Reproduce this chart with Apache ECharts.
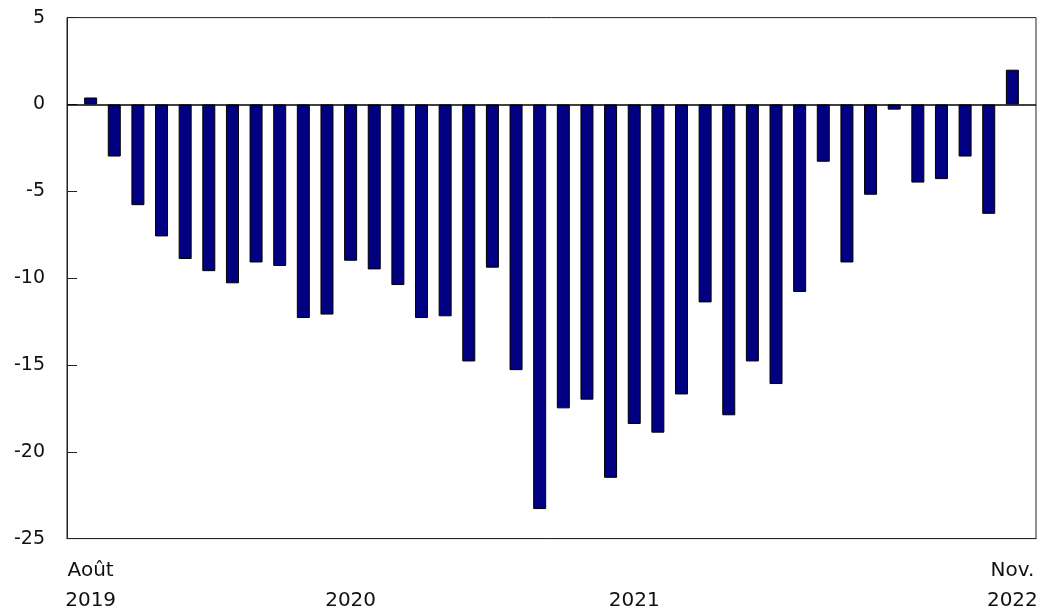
<!DOCTYPE html>
<html>
<head>
<meta charset="utf-8">
<script src="https://cdn.jsdelivr.net/npm/echarts@6/dist/echarts.min.js"></script>
<style>
html,body{margin:0;padding:0;background:#fff;overflow:hidden;}
#chart{width:1041px;height:610px;}
</style>
</head>
<body>
<div id="chart"></div>
<script>
// Months Aug 2019 .. Nov 2022 (padded with an empty slot at each end)
const categories = ['',
  '2019-08','2019-09','2019-10','2019-11','2019-12',
  '2020-01','2020-02','2020-03','2020-04','2020-05','2020-06','2020-07','2020-08','2020-09','2020-10','2020-11','2020-12',
  '2021-01','2021-02','2021-03','2021-04','2021-05','2021-06','2021-07','2021-08','2021-09','2021-10','2021-11','2021-12',
  '2022-01','2022-02','2022-03','2022-04','2022-05','2022-06','2022-07','2022-08','2022-09','2022-10','2022-11',
  ''];
const values = [null,
  0.4, -3.0, -5.8, -7.6, -8.9,
  -9.6, -10.3, -9.1, -9.3, -12.3, -12.1, -9.0, -9.5, -10.4, -12.3, -12.2, -14.8,
  -9.4, -15.3, -23.3, -17.5, -17.0, -21.5, -18.4, -18.9, -16.7, -11.4, -17.9, -14.8,
  -16.1, -10.8, -3.3, -9.1, -5.2, -0.3, -4.5, -4.3, -3.0, -6.3, 2.0,
  null];
const xTickLabels = {
  '2019-08': 'Août\n2019',
  '2020-07': '\n2020',
  '2021-07': '\n2021',
  '2022-11': 'Nov.\n2022'
};
const yTicks = { min: -25, max: 5, step: 5 };

const chart = echarts.init(document.getElementById('chart'));
const font = 'DejaVu Sans, Verdana, sans-serif';
chart.setOption({
  animation: false,
  grid: { left: 67, right: 5, top: 17.6, bottom: 71.4, outerBoundsMode: 'none', containLabel: false, show: true, borderColor: '#222', borderWidth: 1, backgroundColor: 'transparent' },
  xAxis: {
    type: 'category',
    data: categories,
    boundaryGap: false,
    axisLine: { onZero: false, lineStyle: { color: '#222', width: 1 } },
    axisTick: { show: false },
    splitLine: { show: false },
    axisLabel: {
      interval: 0,
      margin: 17,
      color: '#111',
      fontFamily: font,
      fontSize: 20,
      lineHeight: 30,
      formatter: v => xTickLabels[v] || ''
    }
  },
  yAxis: {
    type: 'value',
    min: yTicks.min, max: yTicks.max, interval: yTicks.step,
    axisLine: { show: true, lineStyle: { color: '#222', width: 1 } },
    axisTick: { show: true, inside: true, length: 10, lineStyle: { color: '#222', width: 1 } },
    splitLine: { show: false },
    axisLabel: { margin: 22, color: '#111', fontFamily: font, fontSize: 19 }
  },
  series: [{
    type: 'bar',
    data: values,
    barWidth: 13,
    itemStyle: { color: '#000080', borderColor: '#000', borderWidth: 1 },
    markLine: {
      silent: true,
      symbol: 'none',
      label: { show: false },
      lineStyle: { color: '#000', width: 1.6, type: 'solid' },
      data: [{ yAxis: 0 }]
    }
  }]
});
</script>
</body>
</html>
